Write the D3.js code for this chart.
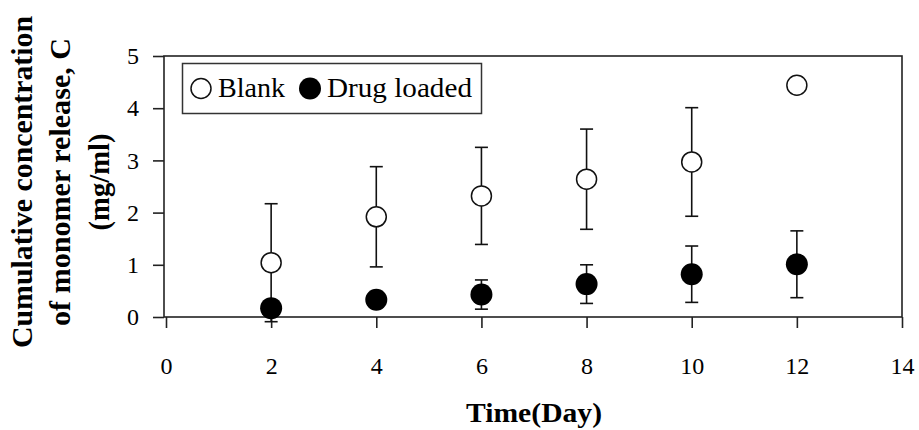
<!DOCTYPE html>
<html>
<head>
<meta charset="utf-8">
<script src="https://cdn.jsdelivr.net/npm/d3@7"></script>
<style>
  html, body { margin: 0; padding: 0; background: #fff; }
  svg { display: block; }
  text { font-family: "Liberation Serif", "Times New Roman", serif; fill: #000; }
</style>
</head>
<body>
<svg id="chart" width="919" height="430"></svg>
<script>
// Sampling days
const days = [2, 4, 6, 8, 10, 12];

// Cumulative monomer concentration (mg/ml) and standard deviations
const blankValues = [1.04, 1.92, 2.32, 2.64, 2.97, 4.44];
const blankErrors = [1.13, 0.96, 0.93, 0.96, 1.04, 0];
const drugValues  = [0.17, 0.33, 0.43, 0.63, 0.82, 1.01];
const drugErrors  = [0.10, 0.12, 0.28, 0.37, 0.54, 0.64];

// Axis ticks
const xTicks = [0, 2, 4, 6, 8, 10, 12, 14];
const yTicks = [0, 1, 2, 3, 4, 5];

const seriesNames = ["Blank", "Drug loaded"];

const svg = d3.select("#chart");

const plot = { left: 166, right: 902, top: 56, bottom: 317 };

const x = d3.scaleLinear().domain([0, 14]).range([plot.left, plot.right]);
const y = d3.scaleLinear().domain([0, 5]).range([plot.bottom, plot.top]);

const axisColor = "#222";
const serif = "'Liberation Serif', 'Times New Roman', serif";

// Frame around the plotting area
svg.append("rect")
  .attr("x", plot.left - 2).attr("y", plot.top)
  .attr("width", plot.right - plot.left + 2).attr("height", plot.bottom - plot.top)
  .attr("fill", "none").attr("stroke", axisColor).attr("stroke-width", 1.6);

// X axis
const xAxis = svg.append("g")
  .attr("transform", `translate(0,${plot.bottom})`)
  .call(d3.axisBottom(x).tickValues(xTicks).tickSize(11).tickPadding(29).tickFormat(d3.format("d")));
xAxis.select(".domain").remove();
xAxis.attr("font-family", null);
xAxis.selectAll(".tick line").attr("stroke", axisColor).attr("stroke-width", 1.6);
xAxis.selectAll(".tick text").style("font-family", serif).style("font-size", "24px").attr("fill", "#000");

// Y axis
const yAxis = svg.append("g")
  .attr("transform", `translate(${plot.left - 2},0)`)
  .call(d3.axisLeft(y).tickValues(yTicks).tickSize(11).tickPadding(14).tickFormat(d3.format("d")));
yAxis.select(".domain").remove();
yAxis.attr("font-family", null);
yAxis.selectAll(".tick line").attr("stroke", axisColor).attr("stroke-width", 1.6);
yAxis.selectAll(".tick text").style("font-family", serif).style("font-size", "24px").attr("fill", "#000");

// Build point records for each series
const blank = days.map((d, i) => ({ day: d, v: blankValues[i], e: blankErrors[i] }));
const drug = days.map((d, i) => ({ day: d, v: drugValues[i], e: drugErrors[i] }));

const capHalf = 6.5;

function drawErrorBars(data) {
  const g = svg.append("g").attr("stroke", "#111").attr("stroke-width", 1.6).attr("fill", "none");
  data.filter(p => p.e > 0).forEach(p => {
    const cx = x(p.day);
    const yHi = y(p.v + p.e), yLo = y(p.v - p.e);
    g.append("line").attr("x1", cx).attr("x2", cx).attr("y1", yHi).attr("y2", yLo);
    g.append("line").attr("x1", cx - capHalf).attr("x2", cx + capHalf).attr("y1", yHi).attr("y2", yHi);
    g.append("line").attr("x1", cx - capHalf).attr("x2", cx + capHalf).attr("y1", yLo).attr("y2", yLo);
  });
}

drawErrorBars(blank);
drawErrorBars(drug);

// Markers
svg.append("g").selectAll("circle").data(blank).join("circle")
  .attr("cx", d => x(d.day)).attr("cy", d => y(d.v)).attr("r", 10)
  .attr("fill", "#fff").attr("stroke", "#111").attr("stroke-width", 1.5);

svg.append("g").selectAll("circle").data(drug).join("circle")
  .attr("cx", d => x(d.day)).attr("cy", d => y(d.v)).attr("r", 11)
  .attr("fill", "#000");

// Legend
const legend = svg.append("g");
legend.append("rect")
  .attr("x", 182.5).attr("y", 63.5).attr("width", 299).attr("height", 50)
  .attr("fill", "#fff").attr("stroke", "#333").attr("stroke-width", 1.5);
legend.append("circle").attr("cx", 201).attr("cy", 88.5).attr("r", 10)
  .attr("fill", "#fff").attr("stroke", "#111").attr("stroke-width", 1.5);
legend.append("text").attr("x", 218).attr("y", 97).attr("font-size", 27)
  .attr("textLength", 67).attr("lengthAdjust", "spacingAndGlyphs").text(seriesNames[0]);
legend.append("circle").attr("cx", 310).attr("cy", 88.5).attr("r", 11).attr("fill", "#000");
legend.append("text").attr("x", 327).attr("y", 97).attr("font-size", 27)
  .attr("textLength", 145).attr("lengthAdjust", "spacingAndGlyphs").text(seriesNames[1]);

// X axis title
svg.append("text")
  .attr("x", 534).attr("y", 422).attr("text-anchor", "middle")
  .attr("font-size", 27).attr("font-weight", "bold")
  .attr("textLength", 136).attr("lengthAdjust", "spacingAndGlyphs")
  .text("Time(Day)");

// Y axis title (three lines, rotated)
const yTitle = [
  { text: "Cumulative concentration", base: 32, len: 332 },
  { text: "of monomer release, C", base: 70, len: 288 },
  { text: "(mg/ml)", base: 109, len: 97 }
];
yTitle.forEach(t => {
  svg.append("text")
    .attr("transform", `translate(${t.base},182) rotate(-90)`)
    .attr("text-anchor", "middle")
    .attr("font-size", 29).attr("font-weight", "bold")
    .attr("textLength", t.len).attr("lengthAdjust", "spacingAndGlyphs")
    .text(t.text);
});
</script>
</body>
</html>
